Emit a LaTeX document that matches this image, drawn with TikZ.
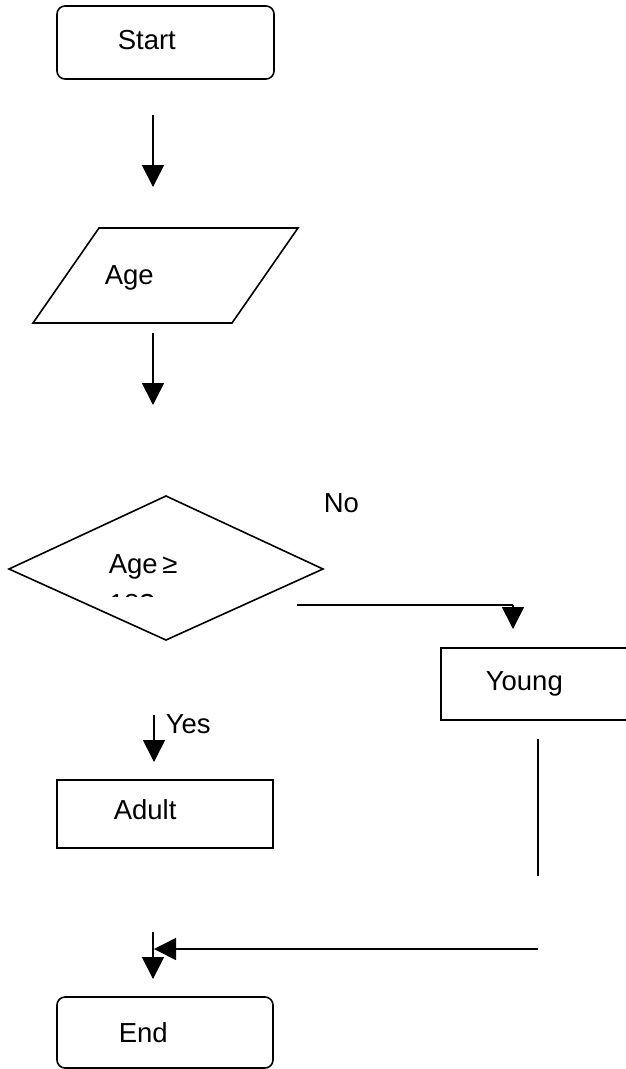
\documentclass[tikz,border=0pt]{standalone}
\usepackage{fontspec}
\setmainfont{Liberation Sans}
\usetikzlibrary{arrows.meta}
\begin{document}
\begin{tikzpicture}[x=1pt,y=-1pt,
  line width=1.6pt,
  shapeline/.style={draw=black, line width=1.6pt},
  lbl/.style={anchor=base west, inner sep=0pt, font=\fontsize{27.5}{33}\selectfont},
  arr/.style={-{Triangle[length=22pt,width=22pt]}, line width=1.6pt}]
\useasboundingbox (0,0) rectangle (626,1069);
% shapes
\node[shapeline, rounded corners=8pt, minimum width=217pt, minimum height=73pt, inner sep=0pt] (start) at (165.5,42.5) {};
\draw[shapeline] (99,228) -- (298,228) -- (232,323) -- (33,323) -- cycle;
\coordinate (para) at (165.5,275.5);
\draw[shapeline] (9,569) -- (166,496) -- (323,569) -- (166,640) -- cycle;
\coordinate (dec) at (166,569);
\draw[shapeline] (441,648) rectangle (645,720);
\coordinate (young) at (533,684);
\draw[shapeline] (57,780) rectangle (273,848);
\coordinate (adult) at (165,814);
\draw[shapeline, rounded corners=8pt] (57,1068) -- (57,997) -- (273,997) -- (273,1068) -- cycle;
\coordinate (endbox) at (165,1032);
% texts
\node[lbl] (tstart) at (117,49) {Start};
\node[lbl] (tage) at (104,284) {Age};
\node[lbl] (tcond) at (108,573) {Age\,≥};
\begin{scope}
  \clip (95,585) rectangle (200,596.5);
  \node[lbl] (tcond2) at (108,613) {18?};
\end{scope}
\node[lbl] (tno) at (323,512) {No};
\node[lbl] (tyoung) at (485,690) {Young};
\node[lbl] (tyes) at (165,733) {Yes};
\node[lbl] (tadult) at (113,819) {Adult};
\node[lbl] (tend) at (118,1042) {End};
% connector coordinates
\coordinate (a1s) at (153,115); \coordinate (a1e) at (153,187);
\coordinate (a2s) at (153,333); \coordinate (a2e) at (153,405);
\coordinate (nos) at (297,605); \coordinate (noc) at (513,605); \coordinate (noe) at (513,629);
\coordinate (yess) at (154,715); \coordinate (yese) at (154,762);
\coordinate (ys) at (538,739); \coordinate (ye) at (538,876);
\coordinate (bs) at (538,949); \coordinate (be) at (154,949);
\coordinate (vs) at (153,932); \coordinate (ve) at (153,979);
% connectors
\draw[arr] (a1s) -- (a1e);
\draw[arr] (a2s) -- (a2e);
\draw (nos) -- (noc);
\draw[arr] (noc) -- (noe);
\draw[arr] (yess) -- (yese);
\draw (ys) -- (ye);
\draw[arr] (bs) -- (be);
\draw[arr] (vs) -- (ve);
\end{tikzpicture}
\end{document}
